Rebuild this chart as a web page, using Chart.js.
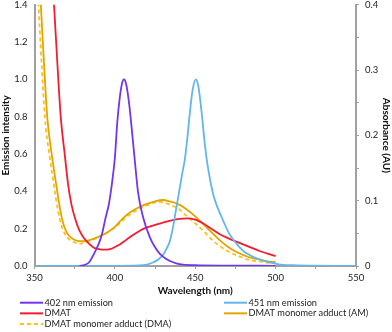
<!DOCTYPE html>
<html>
<head>
<meta charset="utf-8">
<script src="https://cdn.jsdelivr.net/npm/chart.js@4"></script>
<style>
    html, body { margin: 0; padding: 0; background: #fff; }
</style>
</head>
<body>
<canvas id="chart" width="392" height="332"></canvas>
<script>
// emission spectra (left axis, intensity)
const em402Wl = [378, 381, 384, 387, 390, 392, 394, 396.3, 398, 400, 401.5, 403, 404.5, 405.6, 407, 409, 411, 412.4, 414.5, 417.6, 421.7, 425, 428, 432, 436.2, 440, 450, 470, 500];
const em402 = [0, 0.005, 0.02, 0.065, 0.12, 0.172, 0.25, 0.333, 0.43, 0.58, 0.77, 0.9, 0.98, 1.0, 0.975, 0.86, 0.69, 0.565, 0.39, 0.26, 0.155, 0.1, 0.065, 0.038, 0.02, 0.01, 0.004, 0.002, 0.001];

const em451Wl = [350, 380, 415, 420, 424, 427, 430, 432, 434, 436, 438, 440, 442, 443.5, 445, 447, 448.5, 450.3, 452, 454, 456, 457.5, 461, 464, 467.3, 471, 475.6, 480, 484, 487, 492, 497, 502, 510, 520, 550];
const em451 = [0, 0, 0.003, 0.008, 0.02, 0.035, 0.06, 0.09, 0.128, 0.2, 0.3, 0.4, 0.5, 0.57, 0.68, 0.85, 0.95, 1.0, 0.96, 0.82, 0.65, 0.55, 0.39, 0.31, 0.245, 0.175, 0.12, 0.08, 0.058, 0.045, 0.03, 0.018, 0.009, 0.004, 0.002, 0.001];

// absorbance spectra (right axis, AU)
const dmatWl = [360, 362, 364, 366.3, 368.8, 371, 373, 375.6, 378, 380.7, 384, 387, 390, 393, 397, 400, 403, 407, 411, 415.5, 420, 428, 434, 440, 445, 450, 455, 460, 465, 470, 476, 484, 490, 495, 500];
const dmat = [0.5, 0.406, 0.32, 0.229, 0.171, 0.123, 0.094, 0.07, 0.054, 0.043, 0.034, 0.028, 0.026, 0.025, 0.026, 0.029, 0.033, 0.04, 0.047, 0.054, 0.059, 0.065, 0.069, 0.072, 0.073, 0.071, 0.065, 0.057, 0.049, 0.043, 0.037, 0.029, 0.023, 0.019, 0.015];

const amWl = [352, 354, 356, 358, 361, 363.8, 366, 368, 370.4, 373, 376, 380, 383, 387, 391, 395, 400, 405, 410, 415, 420, 425, 430, 434, 440, 444.5, 450, 455, 460, 465, 470, 476, 484, 490, 495, 500];
const am = [0.486, 0.397, 0.306, 0.226, 0.166, 0.12, 0.086, 0.064, 0.05, 0.043, 0.039, 0.038, 0.039, 0.042, 0.046, 0.051, 0.06, 0.073, 0.083, 0.09, 0.095, 0.099, 0.101, 0.099, 0.094, 0.087, 0.076, 0.064, 0.052, 0.04, 0.03, 0.021, 0.013, 0.01, 0.007, 0.006];

const dmaWl = [351, 352.5, 354.5, 356.5, 359.5, 362.3, 364.5, 366.5, 369, 372, 375, 377.5, 380, 383, 387, 391, 395, 400, 405, 410, 415, 420, 425, 428, 432, 436, 440, 444.5, 450, 455, 460, 465, 470, 476, 484, 490, 495, 500];
const dma = [0.457, 0.397, 0.306, 0.226, 0.166, 0.12, 0.086, 0.064, 0.049, 0.04, 0.036, 0.034, 0.035, 0.037, 0.041, 0.046, 0.051, 0.059, 0.07, 0.08, 0.087, 0.093, 0.097, 0.098, 0.096, 0.092, 0.087, 0.077, 0.065, 0.054, 0.041, 0.031, 0.023, 0.016, 0.009, 0.007, 0.005, 0.004];

const seriesNames = ["402 nm emission", "451 nm emission", "DMAT", "DMAT monomer adduct (AM)", "DMAT monomer adduct (DMA)"];

const xTicks = [350, 400, 450, 500, 550];

function pts(xs, ys) {
    return xs.map(function (x, i) { return { x: x, y: ys[i] }; });
}

const axisGray = "#a0a0a0";
const font = { family: "Lato, sans-serif", size: 9.5 };
const boldFont = { family: "Lato, sans-serif", size: 10, weight: "bold" };

function line(label, data, color, axis, dash) {
    return {
        label: label,
        data: data,
        yAxisID: axis,
        borderColor: color,
        backgroundColor: color,
        borderWidth: 1.8,
        borderDash: dash || [],
        pointRadius: 0,
        cubicInterpolationMode: "monotone",
        fill: false,
    };
}

// pin the vertical axes so the plot top sits where the reference has it
function fitY(width) {
    return function (s) {
        s.width = width;
        s.paddingTop = 4.7;
        s.paddingBottom = 0;
    };
}

/* ============ legend in two columns under the axis title ============ */
const twoColLegend = {
    id: "twoColLegend",
    afterDraw: function (chart) {
        const c = chart.ctx;
        c.save();
        c.font = "9.2px Lato, sans-serif";
        c.textBaseline = "middle";
        c.textAlign = "left";
        chart.data.datasets.forEach(function (ds, i) {
            const x = i % 2 ? 224 : 20;
            const y = 302.7 + Math.floor(i / 2) * 10.65;
            c.strokeStyle = ds.borderColor;
            c.lineWidth = 2;
            c.setLineDash(ds.borderDash);
            c.beginPath();
            c.moveTo(x, y);
            c.lineTo(x + 23, y);
            c.stroke();
            c.setLineDash([]);
            c.fillStyle = "#222";
            c.fillText(ds.label, x + 24.5, y);
        });
        c.restore();
    },
};

const ctx = document.getElementById("chart");
const chart = new Chart(ctx.getContext("2d"), {
    type: "line",
    data: {
        datasets: [
            line(seriesNames[0], pts(em402Wl, em402), "#7234ee", "y"),
            line(seriesNames[1], pts(em451Wl, em451), "#62b6ee", "y"),
            line(seriesNames[2], pts(dmatWl, dmat), "#f41c2e", "y1"),
            line(seriesNames[3], pts(amWl, am), "#e2a500", "y1"),
            line(seriesNames[4], pts(dmaWl, dma), "#fcc21a", "y1", [4, 3]),
        ],
    },
    plugins: [twoColLegend],
    options: {
        responsive: false,
        animation: false,
        layout: { padding: { top: 0, bottom: 36, left: 0, right: 0 } },
        plugins: {
            legend: { display: false },
            tooltip: { enabled: false },
        },
        scales: {
            x: {
                type: "linear",
                min: 350,
                max: 550,
                afterFit: function (s) { s.height = 30; },
                border: { display: true, color: axisGray, width: 2 },
                grid: { drawOnChartArea: false, drawTicks: true, tickLength: 3, color: axisGray },
                ticks: {
                    stepSize: 25,
                    padding: 3,
                    color: "#222",
                    font: font,
                    maxRotation: 0,
                    autoSkip: false,
                    callback: function (v) { return xTicks.indexOf(v) >= 0 ? String(v) : ""; },
                },
                title: { display: true, text: "Wavelength (nm)", color: "#111", font: boldFont, padding: { top: 0, bottom: -1 } },
            },
            y: {
                position: "left",
                min: 0,
                max: 1.4,
                afterFit: fitY(34.5),
                border: { display: true, color: axisGray, width: 2 },
                grid: { drawOnChartArea: false, drawTicks: false },
                ticks: {
                    stepSize: 0.2,
                    padding: 7,
                    color: "#222",
                    font: font,
                    callback: function (v) { return v.toFixed(1); },
                },
                title: { display: true, text: "Emission intensity", color: "#111", font: boldFont, padding: 0 },
            },
            y1: {
                position: "right",
                min: 0,
                max: 0.4,
                afterFit: fitY(36),
                border: { display: true, color: axisGray, width: 2 },
                grid: { drawOnChartArea: false, drawTicks: true, tickLength: 3, color: axisGray },
                ticks: {
                    stepSize: 0.05,
                    padding: 6,
                    color: "#222",
                    font: font,
                    autoSkip: false,
                    callback: function (v) {
                        const r = Math.round(v * 100);
                        if (r % 10 !== 0) return "";
                        return r === 0 ? "0" : (r / 100).toString();
                    },
                },
                title: { display: true, text: "Absorbance (AU)", color: "#111", font: boldFont, padding: 0 },
            },
        },
    },
});
</script>
</body>
</html>
